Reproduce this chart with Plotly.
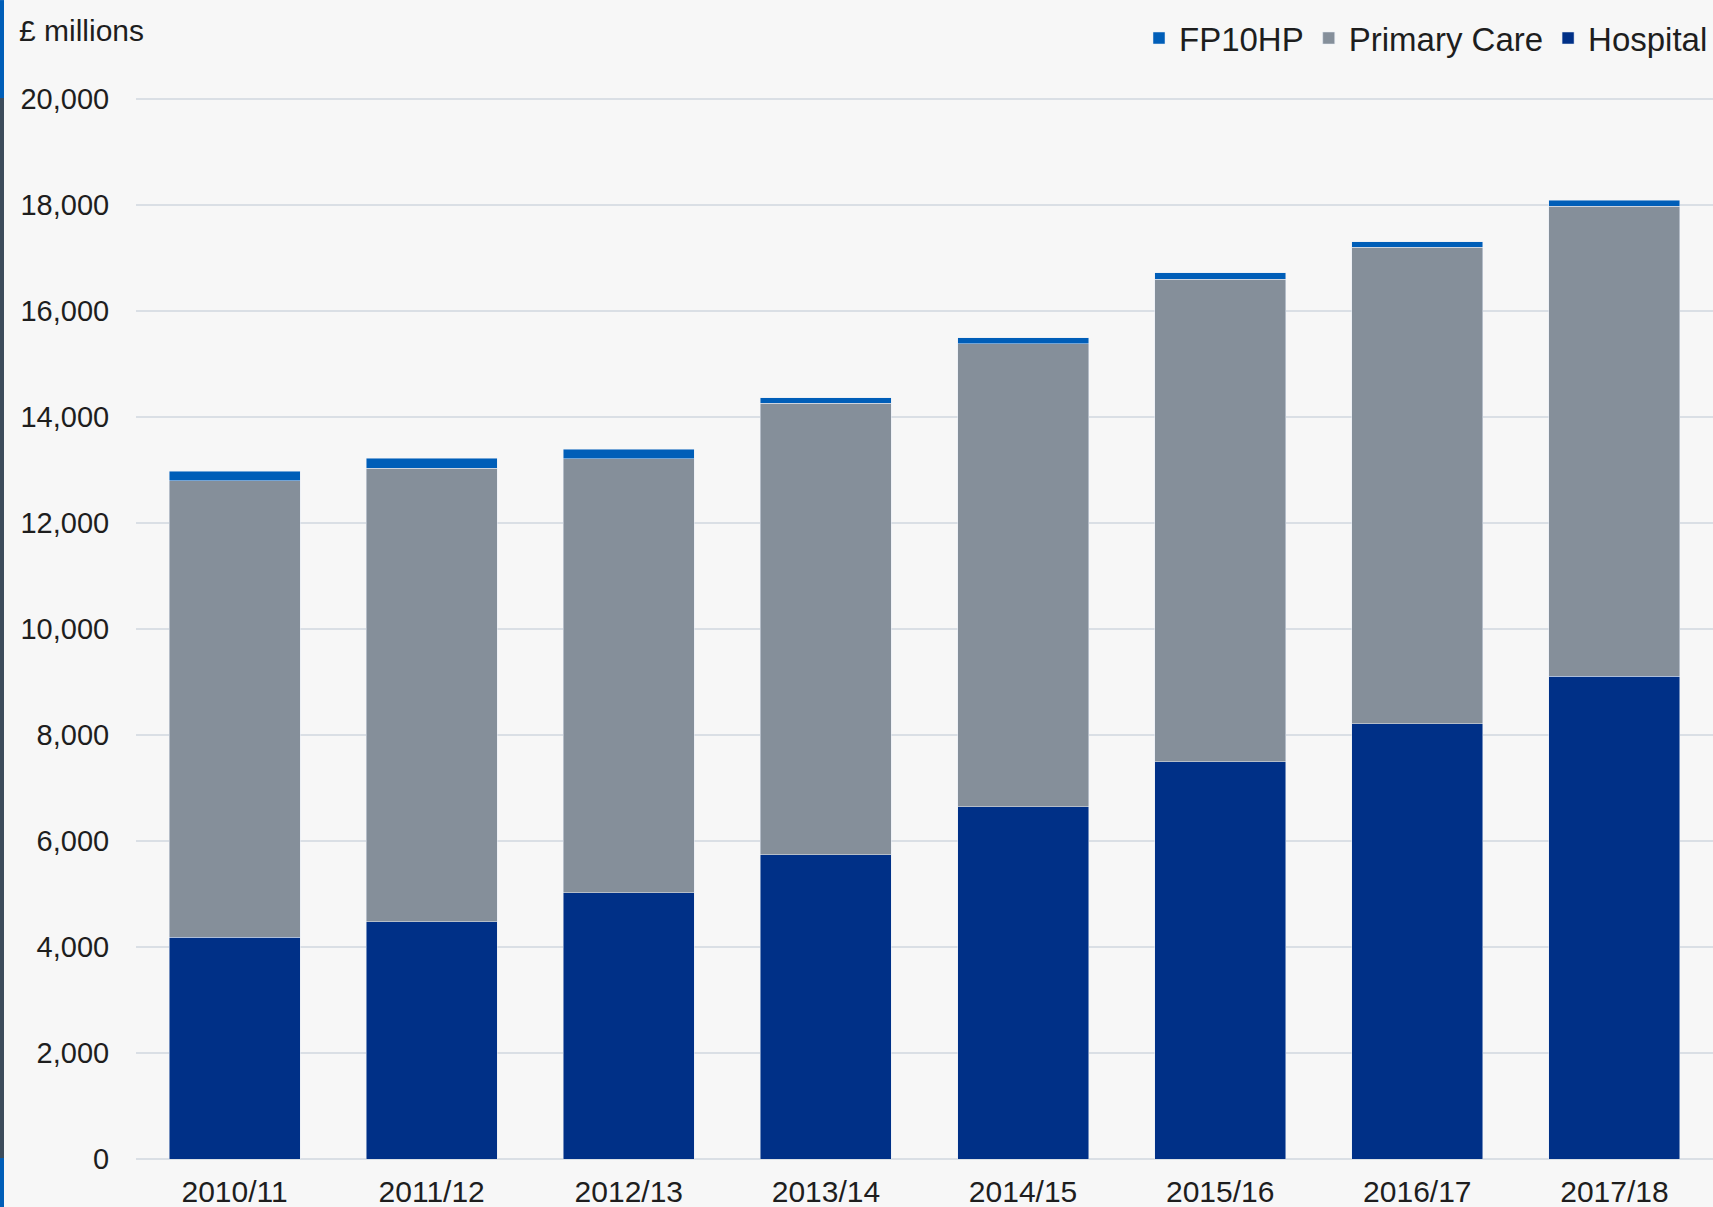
import plotly.graph_objects as go

years = ["2010/11", "2011/12", "2012/13", "2013/14", "2014/15", "2015/16", "2016/17", "2017/18"]
hospital = [4180, 4480, 5020, 5740, 6650, 7500, 8210, 9110]
primary_care = [8620, 8550, 8190, 8520, 8730, 9100, 8990, 8870]
fp10hp = [180, 190, 180, 100, 120, 120, 110, 110]
y_ticks = [0, 2000, 4000, 6000, 8000, 10000, 12000, 14000, 16000, 18000, 20000]

W, H = 1713, 1207
Y_TOP = 20020
ML, MR, MB = 136, 0, 48
ZERO_PX, TOP20K_PX = 1159, 99
MT = TOP20K_PX - (Y_TOP - 20000) * (ZERO_PX - TOP20K_PX) / 20000
PW, PH = W - ML - MR, H - MT - MB

def px(x):
    return (x - ML) / PW

def py(y):
    return (H - MB - y) / PH

FONT = "Arial, Liberation Sans, sans-serif"
TXT = "#1e1e1e"

fig = go.Figure()
fig.add_trace(go.Bar(name="Hospital", x=years, y=hospital, marker_color="#003087"))
fig.add_trace(go.Bar(name="Primary Care", x=years, y=primary_care, marker_color="#858F9A"))
fig.add_trace(go.Bar(name="FP10HP", x=years, y=fp10hp, marker_color="#005EB8"))

fig.update_layout(
    width=W, height=H,
    margin=dict(l=ML, r=MR, t=MT, b=MB, pad=0),
    barmode="stack",
    bargap=0.335,
    paper_bgcolor="#F7F7F7",
    plot_bgcolor="#F7F7F7",
    font=dict(family=FONT, color=TXT, size=30),
    showlegend=True,
    legend=dict(
        orientation="h", traceorder="reversed",
        x=1.0, xanchor="right", y=py(38), yanchor="middle",
        font=dict(size=33, family=FONT, color=TXT),
        bgcolor="rgba(0,0,0,0)", itemclick=False,
        itemwidth=30,
    ),
    xaxis=dict(
        type="category", range=[-0.5, 7.5],
        showgrid=False, zeroline=False, showline=False,
        ticks="outside", ticklen=6, tickcolor="rgba(0,0,0,0)",
        tickfont=dict(size=30, family=FONT, color=TXT),
    ),
    yaxis=dict(
        range=[0, Y_TOP], tickvals=y_ticks,
        ticktext=[f"{v:,}" for v in y_ticks],
        showgrid=True, gridcolor="#DADFE5", gridwidth=2,
        zeroline=True, zerolinecolor="#DADFE5", zerolinewidth=2,
        showline=False,
        ticks="outside", ticklen=20, tickcolor="rgba(0,0,0,0)",
        tickfont=dict(size=29, family=FONT, color=TXT),
    ),
    annotations=[dict(
        text="£ millions", xref="paper", yref="paper",
        x=px(17), y=py(30), xanchor="left", yanchor="middle",
        showarrow=False, font=dict(size=30, family=FONT, color=TXT),
    )],
    shapes=[
        dict(type="rect", xref="paper", yref="paper", x0=px(0), x1=px(4), y0=py(98), y1=py(0),
             fillcolor="#005EB8", line_width=0, layer="above"),
        dict(type="rect", xref="paper", yref="paper", x0=px(0), x1=px(4), y0=py(1158), y1=py(98),
             fillcolor="#3D4C5B", line_width=0, layer="above"),
        dict(type="rect", xref="paper", yref="paper", x0=px(0), x1=px(4), y0=py(1207), y1=py(1158),
             fillcolor="#005EB8", line_width=0, layer="above"),
    ],
)

fig.write_html(
    "out.html",
    config={"displayModeBar": False},
    post_script="document.body.style.margin='0';document.body.style.overflow='hidden';",
)
